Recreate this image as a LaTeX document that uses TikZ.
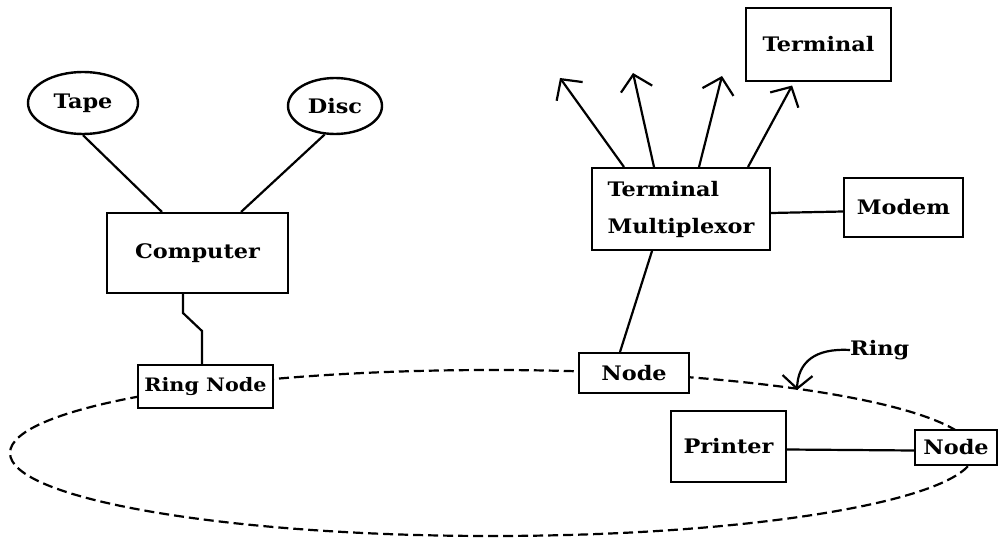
\documentclass[tikz,border=0pt]{standalone}
\usepackage{fontspec}
\setmainfont{DejaVu Serif}[FakeStretch=1.12]
\usetikzlibrary{arrows.meta,shapes.geometric,calc}
\begin{document}
\begin{tikzpicture}[x=1pt,y=-1pt,
  every node/.style={font=\bfseries\fontsize{20}{37}\selectfont, inner sep=0pt},
  box/.style={draw, fill=white, line width=2pt, rectangle},
  oval/.style={draw, fill=white, line width=2.4pt, ellipse},
  wire/.style={line width=2.2pt},
  ringline/.style={line width=2.2pt, dash pattern=on 10pt off 5pt},
  barb/.style={wire, -{Straight Barb[length=15pt,width=32pt]}}
]
\useasboundingbox (0,0) rectangle (998,540);

% the token ring, drawn first so the stations sit on top of it
\draw[ringline] (492,453) ellipse [x radius=482, y radius=83];

% stations and peripherals
\node[oval, minimum width=110pt, minimum height=62pt] (tape) at (83,103) {Tape};
\node[oval, minimum width=94pt, minimum height=56pt] (disc) at (335,106) {Disc};
\node[box, minimum width=181pt, minimum height=80pt] (comp) at (197.5,253) {Computer};
\node[box, minimum width=135pt, minimum height=43pt,
  font=\bfseries\fontsize{18.5}{22}\selectfont] (rnode) at (205.5,386.5) {Ring Node};
\node[box, minimum width=110pt, minimum height=40pt] (mnode) at (634,373) {Node};
\node[box, minimum width=82pt, minimum height=35pt] (pnode) at (956,447.5) {Node};
\node[box, minimum width=115pt, minimum height=71pt] (printer) at (728.5,446.5) {Printer};
\node[box, minimum width=178pt, minimum height=82pt, align=left] (tmux) at (681,209) {Terminal\\Multiplexor};
\node[box, minimum width=119pt, minimum height=59pt] (modem) at (903.5,207.5) {Modem};
\node[box, minimum width=145pt, minimum height=73pt] (term) at (818.5,44.5) {Terminal};
\node[anchor=west] (ringlbl) at (850,350) {Ring};

% free ends of the terminal lines
\coordinate (t1) at (560,78);
\coordinate (t2) at (633,73);
\coordinate (t3) at (722,76);
\coordinate (ringtip) at (797,390);

% computer and its storage
\draw[wire] (tape.south) -- ($(comp.north west)+(56,0)$);
\draw[wire] (disc.250) -- ($(comp.north west)+(135,0)$);
\draw[wire] ($(comp.south)+(-14.5,0)$) -- ++(0,19) -- ++(19,18)
  -- ($(rnode.north)+(-3.5,0)$);

% terminal multiplexor
\draw[barb] ($(tmux.north west)+(33,0)$) -- (t1);
\draw[barb] ($(tmux.north west)+(63,0)$) -- (t2);
\draw[barb] ($(tmux.north west)+(108,0)$) -- (t3);
\draw[barb, shorten >=4pt] ($(tmux.north west)+(157,0)$) -- ($(term.south west)+(49,0)$);
\draw[wire] ([yshift=-4pt]tmux.east) -- ([yshift=-4pt]modem.west);
\draw[wire] ($(tmux.south)+(-29,0)$) -- ($(mnode.north)+(-14,0)$);

% printer
\draw[wire] ([yshift=-3pt]printer.east) -- ([yshift=-3pt]pnode.west);

% ring label
\draw[wire, -{Straight Barb[length=13pt,width=30pt]}] (ringlbl.west)
  .. controls (815,348) and (798,362) .. (ringtip);
\end{tikzpicture}
\end{document}
